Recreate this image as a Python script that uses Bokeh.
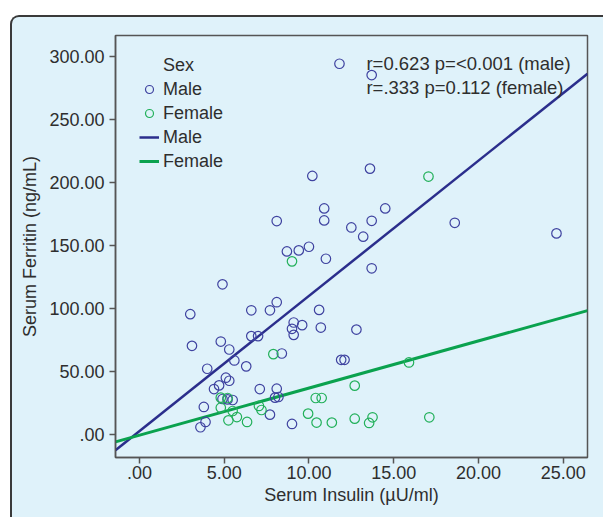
from bokeh.plotting import figure
from bokeh.models import Range1d, FixedTicker, Legend, LegendItem, Label
from bokeh.embed import file_html
from bokeh.resources import INLINE

# ---------------- data ----------------
male_insulin = [11.8, 13.7, 13.6, 10.2, 14.5, 10.9, 8.1, 10.9, 13.7, 18.6,
                12.5, 13.2, 24.6, 8.7, 9.4, 10.0, 11.0, 13.7, 4.9, 8.1,
                3.0, 6.6, 7.7, 10.6, 9.1, 9.6, 9.0, 9.1, 10.7, 12.8,
                6.6, 7.0, 3.1, 4.8, 5.3, 8.4, 11.9, 12.1, 5.6, 4.0,
                6.3, 5.1, 5.3, 4.7, 4.4, 7.1, 8.1, 4.9, 5.2, 5.5,
                8.0, 8.2, 3.8, 7.7, 3.9, 3.6, 9.0]
male_ferritin = [294.5, 285.5, 211.3, 205.5, 179.7, 179.7, 169.7, 170.2, 169.9, 168.3,
                 164.6, 157.3, 159.9, 145.6, 146.4, 149.3, 139.8, 132.2, 119.5, 105.3,
                 95.8, 98.9, 98.9, 99.2, 89.2, 87.1, 84.2, 79.4, 85.2, 83.6,
                 78.4, 78.4, 70.7, 74.1, 67.8, 64.6, 59.6, 59.6, 59.1, 52.5,
                 54.4, 45.4, 43.0, 39.3, 36.4, 36.4, 36.7, 28.5, 28.2, 27.7,
                 29.6, 30.1, 22.2, 16.1, 10.3, 6.1, 8.7]
female_insulin = [17.05, 9.0, 7.9, 15.9, 12.7, 4.8, 5.2, 10.4, 10.75, 4.8,
                  7.05, 7.2, 5.5, 5.75, 5.25, 6.35, 9.95, 10.45, 11.35, 12.7,
                  13.75, 13.55, 17.1]
female_ferritin = [205.0, 137.7, 64.1, 57.5, 39.1, 29.6, 29.3, 29.3, 29.3, 21.6,
                   23.0, 19.8, 19.0, 14.2, 11.6, 10.3, 16.9, 9.8, 9.8, 12.9,
                   14.0, 9.5, 14.0]

# fit lines (intercept, slope)
male_fit = (3.0, 10.73)
female_fit = (-0.2, 3.74)

x_ticks = [0, 5, 10, 15, 20, 25]
x_tick_labels = [".00", "5.00", "10.00", "15.00", "20.00", "25.00"]
y_ticks = [0, 50, 100, 150, 200, 250, 300]
y_tick_labels = [".00", "50.00", "100.00", "150.00", "200.00", "250.00", "300.00"]

stats_text = ["r=0.623 p=<0.001 (male)", "r=.333 p=0.112 (female)"]

# ---------------- layout / style ----------------
X_MIN, X_MAX = -1.41, 26.43
Y_MIN, Y_MAX = -17.9, 316.9
BG = "#dff2fa"
TXT = "#2e2e2e"
FONT = "Liberation Sans"
FS = "18px"
MALE_PT = "#3f43a0"
FEMALE_PT = "#22b05a"
MALE_LN = "#2b2e8c"
FEMALE_LN = "#0aa24e"

p = figure(width=593, height=502, output_backend="svg", toolbar_location=None,
           x_range=Range1d(X_MIN, X_MAX), y_range=Range1d(Y_MIN, Y_MAX),
           min_border_left=103, min_border_right=18, min_border_top=18,
           min_border_bottom=62, margin=(15, 0, 0, 10),
           styles={"border-left": "2px solid #3a3a3a",
                   "border-top": "2px solid #3a3a3a",
                   "border-top-left-radius": "9px",
                   "overflow": "hidden",
                   "background-color": BG})
p.border_fill_color = BG
p.background_fill_color = BG
p.outline_line_color = "#555555"
p.outline_line_width = 1.5
p.grid.visible = False

for ax in (p.xaxis[0], p.yaxis[0]):
    ax.axis_line_color = "#555555"
    ax.axis_line_width = 1.5
    ax.major_tick_line_color = "#555555"
    ax.major_tick_line_width = 1.5
    ax.major_tick_out = 6
    ax.major_tick_in = 0
    ax.minor_tick_line_color = None
    ax.major_label_text_font = FONT
    ax.major_label_text_font_size = FS
    ax.major_label_text_color = TXT
    ax.axis_label_text_font = FONT
    ax.axis_label_text_font_size = FS
    ax.axis_label_text_color = TXT
    ax.axis_label_text_font_style = "normal"

p.xaxis.ticker = FixedTicker(ticks=x_ticks)
p.xaxis.major_label_overrides = dict(zip(x_ticks, x_tick_labels))
p.yaxis.ticker = FixedTicker(ticks=y_ticks)
p.yaxis.major_label_overrides = dict(zip(y_ticks, y_tick_labels))
p.xaxis.axis_label = "Serum Insulin (µU/ml)"
p.yaxis.axis_label = "Serum Ferritin (ng/mL)"
p.xaxis.major_label_standoff = 2
p.xaxis.axis_label_standoff = 3
p.yaxis.major_label_standoff = 5
p.yaxis.axis_label_standoff = 6

# fit lines
xs = [X_MIN, X_MAX]
male_line = p.line(xs, [male_fit[0] + male_fit[1] * x for x in xs],
                   line_color=MALE_LN, line_width=2.5)
female_line = p.line(xs, [female_fit[0] + female_fit[1] * x for x in xs],
                     line_color=FEMALE_LN, line_width=3)

male_pts = p.scatter(male_insulin, male_ferritin, marker="circle", size=9.5,
                     fill_color=None, line_color=MALE_PT, line_width=1.2)
female_pts = p.scatter(female_insulin, female_ferritin, marker="circle", size=9.5,
                       fill_color=None, line_color=FEMALE_PT, line_width=1.2)

dummy = p.scatter([float("nan")], [float("nan")], marker="circle", size=1,
                  fill_alpha=0, line_alpha=0)

legend = Legend(items=[LegendItem(label="Sex", renderers=[dummy]),
                       LegendItem(label="Male", renderers=[male_pts]),
                       LegendItem(label="Female", renderers=[female_pts]),
                       LegendItem(label="Male", renderers=[male_line]),
                       LegendItem(label="Female", renderers=[female_line])],
                location=(24, 284), border_line_color=None,
                background_fill_alpha=0, padding=0, margin=0, spacing=0,
                glyph_height=24, glyph_width=20, label_height=24,
                label_standoff=4, label_text_font=FONT,
                label_text_font_size=FS, label_text_color=TXT)
p.add_layout(legend)

# stats text
for txt, ypos in zip(stats_text, [294.6, 275.9]):
    p.add_layout(Label(x=13.39, y=ypos, text=txt, text_font=FONT,
                       text_font_size="18.5px", text_color=TXT,
                       text_baseline="middle", text_align="left"))

open("out.html", "w").write(file_html(p, INLINE))
